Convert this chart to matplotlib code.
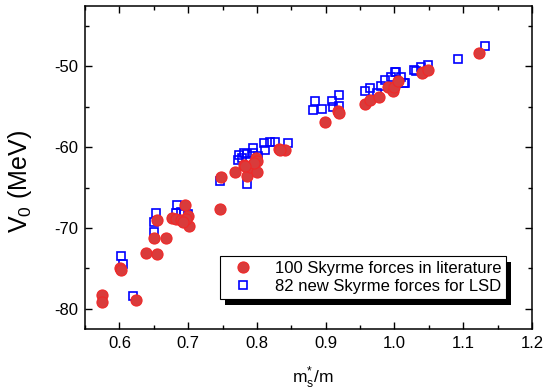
import numpy as np
import matplotlib
matplotlib.use("Agg")
import matplotlib.pyplot as plt
from matplotlib.ticker import MultipleLocator
from matplotlib.patches import Rectangle
from matplotlib.transforms import IdentityTransform

plt.rcParams["font.family"] = ["Liberation Sans", "DejaVu Sans"]
plt.rcParams["axes.unicode_minus"] = False

# 100 Skyrme forces in literature (m_s*/m, V0 in MeV)
lit_ms = [0.574, 0.575, 0.624, 0.601, 0.603, 0.639, 0.655, 0.651, 0.668,
          0.655, 0.677, 0.683, 0.689, 0.695, 0.700, 0.701, 0.697, 0.747,
          0.748, 0.768, 0.781, 0.786, 0.795, 0.798, 0.800, 0.790, 0.800,
          0.832, 0.841, 0.834, 0.899, 0.918, 0.919, 0.957, 0.965, 0.978,
          0.990, 0.998, 0.999, 1.005, 1.041, 1.040, 1.049, 1.123, 0.692,
          0.796, 0.783]
lit_v0 = [-78.3, -79.2, -78.9, -74.9, -75.2, -73.1, -73.2, -71.2, -71.2,
          -69.0, -68.8, -68.9, -69.05, -67.1, -68.5, -69.8, -68.9, -67.6,
          -63.7, -63.0, -62.2, -63.5, -62.05, -61.3, -61.7, -62.5, -63.0,
          -60.2, -60.4, -60.4, -56.9, -55.5, -55.8, -54.6, -54.1, -53.8,
          -52.5, -53.0, -52.5, -51.8, -50.7, -50.8, -50.5, -48.35, -69.2,
          -61.9, -62.3]

# 82 new Skyrme forces for LSD
new_ms = [0.603, 0.605, 0.620, 0.653, 0.650, 0.650, 0.684, 0.682, 0.689,
          0.700, 0.694, 0.747, 0.774, 0.773, 0.781, 0.786, 0.794, 0.795,
          0.786, 0.811, 0.812, 0.819, 0.827, 0.845, 0.778, 0.802, 0.884,
          0.882, 0.895, 0.909, 0.910, 0.920, 0.919, 0.957, 0.965, 0.974,
          0.980, 0.987, 0.995, 1.003, 1.010, 1.016, 1.031, 1.029, 1.039,
          1.049, 1.092, 1.132, 1.001, 1.014]
new_v0 = [-73.5, -74.4, -78.4, -68.1, -69.3, -70.5, -67.1, -68.1, -68.0,
          -68.2, -68.3, -64.2, -60.9, -61.55, -60.7, -60.8, -60.1, -60.65,
          -64.5, -59.5, -60.3, -59.3, -59.3, -59.5, -61.3, -61.1, -54.3,
          -55.4, -55.3, -54.3, -55.0, -53.5, -54.85, -53.0, -52.7, -53.3,
          -52.4, -51.7, -51.3, -50.7, -51.3, -52.05, -50.6, -50.5, -50.1,
          -49.8, -49.05, -47.45, -50.7, -52.05]

fig = plt.figure(figsize=(5.45, 3.89), dpi=100)
ax = fig.add_axes([0.156, 0.154, 0.820, 0.831])

ax.plot(lit_ms, lit_v0, "o", ms=8, mfc="#d93b3b", mec="#f02828", mew=0.8,
        label="100 Skyrme forces in literature", zorder=3)
ax.plot(new_ms, new_v0, "s", ms=6, mfc="none", mec="#0000ff", mew=1.2,
        label="82 new Skyrme forces for LSD", zorder=2)

ax.set_xlim(0.55, 1.2)
ax.set_ylim(-82.5, -42.5)
ax.xaxis.set_major_locator(MultipleLocator(0.1))
ax.xaxis.set_minor_locator(MultipleLocator(0.05))
ax.yaxis.set_major_locator(MultipleLocator(10))
ax.yaxis.set_minor_locator(MultipleLocator(5))
ax.xaxis.set_major_formatter(plt.FormatStrFormatter("%.1f"))
ax.tick_params(which="both", direction="in", top=True, right=True,
               labeltop=False, labelright=False, labelsize=12, width=1)
ax.tick_params(which="major", length=5, pad=5)
ax.tick_params(which="minor", length=3)
for s in ax.spines.values():
    s.set_linewidth(1.1)

ax.set_xlabel(r"m$_\mathregular{s}^\mathregular{*}$/m", fontsize=12.5)
ax.xaxis.set_label_coords(0.51, -0.11)
ax.set_ylabel(r"V$_\mathregular{0}$ (MeV)", fontsize=18)
ax.yaxis.set_label_coords(-0.114, 0.455)

leg = ax.legend(loc="lower right", bbox_to_anchor=(0.9425, 0.093),
                fontsize=12, frameon=True, fancybox=False, shadow=False,
                borderpad=0.3, handletextpad=0.8, labelspacing=0.2,
                borderaxespad=0, handlelength=2.2, framealpha=1)
leg.get_frame().set_edgecolor("black")
leg.get_frame().set_linewidth(0.8)

# solid black drop shadow behind the legend box
fig.canvas.draw()
bb = leg.get_window_extent()
shadow = Rectangle((bb.x0 + 5, bb.y0 - 6), bb.width, bb.height,
                   transform=IdentityTransform(), facecolor="black",
                   edgecolor="none", zorder=leg.get_zorder() - 0.1)
ax.add_artist(shadow)

fig.savefig("out.png", dpi=100)
